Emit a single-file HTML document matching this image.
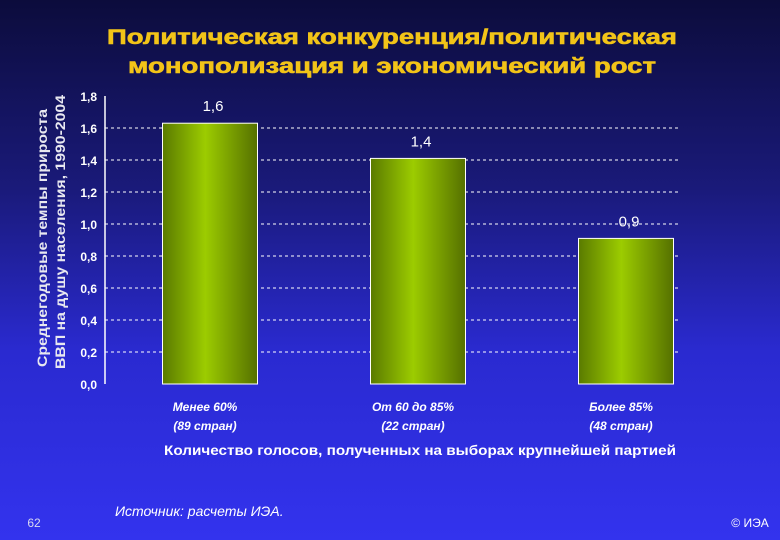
<!DOCTYPE html>
<html><head><meta charset="utf-8"><style>
html,body{margin:0;padding:0}
body{width:780px;height:540px;overflow:hidden;background:linear-gradient(#0c0c3c 0%,#1a1a7a 35%,#2a2ad0 65%,#3333ee 100%)}
svg{display:block}
</style></head><body>
<svg id="chart" width="780" height="540" font-family="Liberation Sans, sans-serif">
<defs>
<linearGradient id="barg" x1="0" x2="1" y1="0" y2="0">
<stop offset="0" stop-color="#5a7a00"/><stop offset="0.45" stop-color="#9ccc00"/><stop offset="1" stop-color="#557000"/>
</linearGradient>
</defs>
<g font-family="Liberation Sans, sans-serif" font-weight="bold" fill="#f2c418" text-anchor="middle" font-size="21" stroke="#f2c418" stroke-width="0.6">
<text x="392" y="44" textLength="570" lengthAdjust="spacingAndGlyphs">Политическая конкуренция/политическая</text>
<text x="392" y="73" textLength="528" lengthAdjust="spacingAndGlyphs">монополизация и экономический рост</text>
</g>
<g fill="#e8e8f0" font-weight="bold" font-size="14" text-anchor="middle">
<text transform="translate(47,238) rotate(-90)" textLength="258" lengthAdjust="spacingAndGlyphs">Среднегодовые темпы прироста</text>
<text transform="translate(65,232) rotate(-90)" textLength="274" lengthAdjust="spacingAndGlyphs">ВВП на душу населения, 1990-2004</text>
</g>
<g id="grid"></g>
<g id="yticks"></g>
<line x1="105" y1="96" x2="105" y2="384" stroke="#fff" stroke-width="1.5"/>
<g id="bars"></g>
<g id="xcats"></g>
<text x="420" y="455" fill="#fff" font-weight="bold" font-size="14" text-anchor="middle" textLength="512" lengthAdjust="spacingAndGlyphs">Количество голосов, полученных на выборах крупнейшей партией</text>
<text x="34" y="527" fill="#d8d8f0" font-size="12" text-anchor="middle">62</text>
<text x="115" y="516" fill="#fff" font-style="italic" font-size="14">Источник:  расчеты ИЭА.</text>
<text x="750" y="527" fill="#fff" font-size="12" text-anchor="middle">© ИЭА</text>
</svg>
<script>
const categories1 = ["Менее 60%", "От 60 до 85%", "Более 85%"];
const categories2 = ["(89 стран)", "(22 стран)", "(48 стран)"];
const values = [1.63, 1.41, 0.91];
const valueLabels = ["1,6", "1,4", "0,9"];
const yTicks = [0, 0.2, 0.4, 0.6, 0.8, 1.0, 1.2, 1.4, 1.6, 1.8];
const yTickLabels = ["0,0","0,2","0,4","0,6","0,8","1,0","1,2","1,4","1,6","1,8"];
const NS = "http://www.w3.org/2000/svg";
const y0 = 384, yTop = 96, vMax = 1.8;
function yScale(v){ return y0 - (v / vMax) * (y0 - yTop); }
const plotL = 105, plotR = 680, band = 208, barW = 95;
function xCenter(i){ return 210 + band * i; }
function mk(tag, attrs){ const e = document.createElementNS(NS, tag); for (const k in attrs) e.setAttribute(k, attrs[k]); return e; }
const grid = document.getElementById('grid'), yt = document.getElementById('yticks');
yTicks.forEach((t, i) => {
  const y = yScale(t);
  if (t > 0 && t < vMax) {
    const l = mk('line', {x1: plotL, x2: plotR, y1: y, y2: y, stroke: '#fff', 'stroke-width': 1, 'stroke-dasharray': '3,3'});
    
    
    grid.appendChild(l);
  }
  const tx = mk('text', {x: 97, y: y + 5, fill: '#fff', 'font-weight': 'bold', 'font-size': 12, 'text-anchor': 'end'});
  tx.textContent = yTickLabels[i];
  
  
  yt.appendChild(tx);
});
const bars = document.getElementById('bars'), xc = document.getElementById('xcats');
values.forEach((v, i) => {
  const cx = xCenter(i), y = yScale(v);
  const r = mk('rect', {x: cx - barW / 2, y: y, width: barW, height: y0 - y, fill: 'url(#barg)', stroke: '#fff', 'stroke-width': 1});
  
  
  bars.appendChild(r);
  const lb = mk('text', {x: cx + 3, y: y - 12, fill: '#fff', 'font-size': 15, 'text-anchor': 'middle'});
  lb.textContent = valueLabels[i];
  
  
  bars.appendChild(lb);
  [categories1[i], categories2[i]].forEach((s, j) => {
    const t = mk('text', {x: cx - 5, y: 411 + j * 19, fill: '#fff', 'font-weight': 'bold', 'font-style': 'italic', 'font-size': 12, 'text-anchor': 'middle'});
    t.textContent = s;
    
    
    xc.appendChild(t);
  });
});
</script>
</body></html>
